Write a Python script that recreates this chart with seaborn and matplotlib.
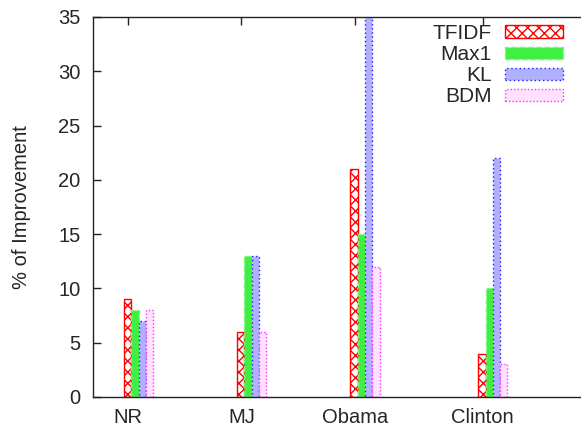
import numpy as np
import pandas as pd
import matplotlib
matplotlib.use("Agg")
import matplotlib.pyplot as plt
import seaborn as sns

# ---- data ----
categories = ["NR", "MJ", "Obama", "Clinton"]
cat_pos = [1.0, 2.0, 3.0, 4.13]
methods = ["TFIDF", "Max1", "KL", "BDM"]
tfidf = [9, 6, 21, 4]
max1 = [8, 13, 15, 10]
kl = [7, 13, 38, 22]
bdm = [8, 6, 12, 3]
yticks = [0, 5, 10, 15, 20, 25, 30, 35]

# ---- styles ----
face = {"TFIDF": "white", "Max1": "#40f040", "KL": "#b0b0ff", "BDM": "#ffe0ff"}
edge = {"TFIDF": "#ff0000", "Max1": "#80f080", "KL": "#2020ff", "BDM": "#ff30ff"}
lstyle = {"TFIDF": "solid", "Max1": (0, (4, 2)), "KL": (0, (1, 2)), "BDM": (0, (1, 1.5))}
hatch = {"TFIDF": "xxx", "Max1": None, "KL": None, "BDM": None}

sns.set_style("ticks")
plt.rcParams["font.family"] = ["Liberation Sans", "DejaVu Sans"]
plt.rcParams["hatch.linewidth"] = 1.0

rows = []
vals = {"TFIDF": tfidf, "Max1": max1, "KL": kl, "BDM": bdm}
group_shift = 0.091
for m in methods:
    for c, p, v in zip(categories, cat_pos, vals[m]):
        rows.append({"pos": p + group_shift, "method": m, "value": v})
df = pd.DataFrame(rows)

fig = plt.figure(figsize=(5.81, 4.29), dpi=100)
ax = fig.add_axes([93 / 581, 32 / 429, 492 / 581, 380 / 429])

sns.barplot(data=df, x="pos", y="value", hue="method", hue_order=methods,
            native_scale=True, width=0.258, gap=0, dodge=True, legend=False,
            errorbar=None, ax=ax, linewidth=1.0)

for cont, m in zip(ax.containers, methods):
    cont.set_label(m)
    for p in cont.patches:
        p.set_facecolor(face[m])
        p.set_edgecolor(edge[m])
        p.set_linestyle(lstyle[m])
        p.set_linewidth(1.0)
        if hatch[m]:
            p.set_hatch(hatch[m])

ax.set_xlim(0.688, 5.035)
ax.set_ylim(0, 35)
ax.set_yticks(yticks)
ax.set_xticks(cat_pos)
ax.set_xticklabels(categories)
ax.set_xlabel("")
ax.set_ylabel("% of Improvement", fontsize=14.5)
ax.yaxis.set_label_coords(-0.126, 0.5)

for s in ["left", "bottom", "top", "right"]:
    ax.spines[s].set_visible(True)
    ax.spines[s].set_color("#222222")
    ax.spines[s].set_linewidth(1.0)

ax.tick_params(axis="both", direction="in", length=6, width=1, color="#222222",
               labelsize=14.5, top=True, right=False)
ax.tick_params(axis="y", pad=9)
ax.tick_params(axis="x", pad=8)

leg = ax.legend(handles=ax.containers, labels=methods, loc="upper right",
                bbox_to_anchor=(563 / 581, 1 - 24 / 429), bbox_transform=fig.transFigure,
                frameon=False, fontsize=15, markerfirst=False, borderpad=0,
                borderaxespad=0, handlelength=2.79, handleheight=0.53,
                handletextpad=0.64, labelspacing=0.1)

fig.savefig("out.png", dpi=100)
